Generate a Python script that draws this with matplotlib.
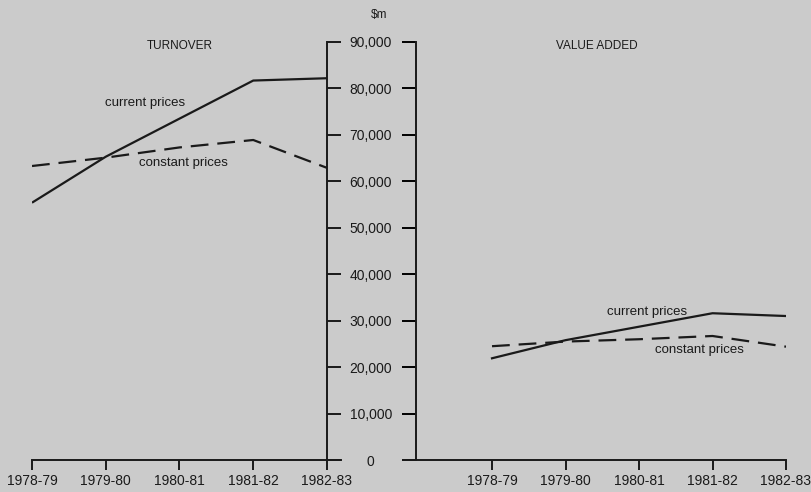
import matplotlib.pyplot as plt

plt.rcParams['font.family'] = ['Liberation Sans', 'DejaVu Sans']

years = ['1978-79', '1979-80', '1980-81', '1981-82', '1982-83']
turnover_current = [55400, 65300, 73500, 81700, 82200]
turnover_constant = [63300, 65100, 67300, 68900, 62900]
va_current = [21900, 25800, 28700, 31600, 31000]
va_constant = [24500, 25500, 26000, 26700, 24400]
y_ticks = [0, 10000, 20000, 30000, 40000, 50000, 60000, 70000, 80000, 90000]

bg = '#cbcbcb'
ink = '#1a1a1a'
x = list(range(len(years)))

fig = plt.figure(figsize=(8.12, 4.92), dpi=100, facecolor=bg)

# --- turnover (left) ---
ax1 = fig.add_axes([32/812, 1-460/492, 309/812, 418/492], facecolor='none')
ax1.plot(x, turnover_current, color=ink, lw=1.6, solid_capstyle='butt')
ax1.plot(x, turnover_constant, color=ink, lw=1.6, dashes=(8, 4))
ax1.set_xlim(0, 4.19)
ax1.set_ylim(0, 90000)
for s in ['top', 'left']:
    ax1.spines[s].set_visible(False)
ax1.spines['right'].set_position(('data', 4))
ax1.yaxis.tick_right()
ax1.set_yticks(y_ticks)
ax1.set_yticklabels([f'{v:,}' for v in y_ticks])
ax1.tick_params(axis='y', direction='out', length=10, width=1.4, pad=21.5,
                labelsize=10, colors=ink)
for lab in ax1.get_yticklabels():
    lab.set_horizontalalignment('center')
ax1.set_xticks(x)
ax1.set_xticklabels(years)
ax1.tick_params(axis='x', direction='out', length=7, width=1.4, pad=3,
                labelsize=10, colors=ink)
ax1.text(2.0, 89150, 'TURNOVER', ha='center', va='center', fontsize=8.5, color=ink)
ax1.text(1.53, 76900, 'current prices', ha='center', va='center', fontsize=9.5, color=ink)
ax1.text(2.06, 63950, 'constant prices', ha='center', va='center', fontsize=9.5, color=ink)

# --- value added (right) ---
ax2 = fig.add_axes([403/812, 1-460/492, 383/812, 418/492], facecolor='none')
ax2.plot(x, va_current, color=ink, lw=1.6)
ax2.plot(x, va_constant, color=ink, lw=1.6, dashes=(8, 4))
ax2.set_xlim(-1.211, 4)
ax2.set_ylim(0, 90000)
for s in ['top', 'right']:
    ax2.spines[s].set_visible(False)
ax2.spines['left'].set_position(('data', -1.034))
ax2.set_yticks(y_ticks)
ax2.set_yticklabels([])
ax2.tick_params(axis='y', direction='out', length=10, width=1.4)
ax2.set_xticks(x)
ax2.set_xticklabels(years)
ax2.tick_params(axis='x', direction='out', length=7, width=1.4, pad=3,
                labelsize=10, colors=ink)
ax2.text(1.43, 89150, 'VALUE ADDED', ha='center', va='center', fontsize=8.5, color=ink)
ax2.text(2.11, 31870, 'current prices', ha='center', va='center', fontsize=9.5, color=ink)
ax2.text(2.82, 23690, 'constant prices', ha='center', va='center', fontsize=9.5, color=ink)

for ax in (ax1, ax2):
    for sp in ax.spines.values():
        sp.set_linewidth(1.4)
        sp.set_color(ink)

fig.text(379/812, 1-15/492, '$m', ha='center', va='center', fontsize=8.5, color=ink)

fig.savefig('out.png', dpi=100, facecolor=bg)
